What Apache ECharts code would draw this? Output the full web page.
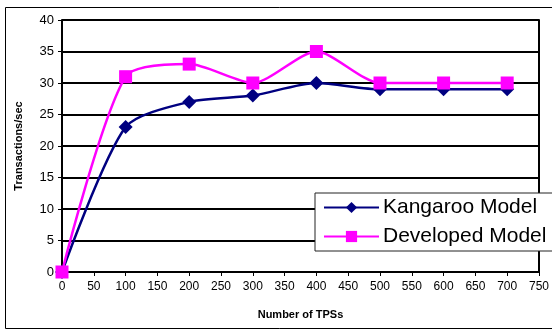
<!DOCTYPE html>
<html><head><meta charset="utf-8">
<script src="https://cdn.jsdelivr.net/npm/echarts@6/dist/echarts.min.js"></script>
<style>html,body{margin:0;padding:0;background:#fff}#c{width:552px;height:331px}</style>
</head><body><div id="c"></div>
<script>
var tps = [0, 100, 200, 300, 400, 500, 600, 700];
var kangaroo = [0, 23, 27, 28, 30, 29, 29, 29];
var developed = [0, 31, 33, 30, 35, 30, 30, 30];
var seriesNames = ['Kangaroo Model', 'Developed Model'];

function pairs(xs, ys) { return xs.map(function (x, i) { return [x, ys[i]]; }); }

var chart = echarts.init(document.getElementById('c'), null, {renderer: 'canvas'});
chart.setOption({
  animation: false,
  backgroundColor: '#fff',
  grid: {left: 62, top: 20, right: 11, bottom: 59},
  graphic: [{type: 'rect', shape: {x: 5.5, y: 7.5, width: 580, height: 321}, style: {fill: 'none', stroke: '#000', lineWidth: 1}, z: -1}],
  xAxis: {
    type: 'value', min: 0, max: 750, interval: 50,
    name: 'Number of TPSs', nameLocation: 'middle', nameGap: 37,
    nameTextStyle: {fontFamily: 'Liberation Sans', fontWeight: 'bold', fontSize: 11, color: '#000'},
    axisLine: {lineStyle: {color: '#000', width: 2}},
    axisTick: {show: true, length: 4, lineStyle: {color: '#000', width: 1}},
    axisLabel: {fontFamily: 'Liberation Sans', fontSize: 12, color: '#000', margin: 9},
    splitLine: {show: false}
  },
  yAxis: [{
    type: 'value', min: 0, max: 40, interval: 5,
    name: 'Transactions/sec', nameLocation: 'middle', nameGap: 38,
    nameTextStyle: {fontFamily: 'Liberation Sans', fontWeight: 'bold', fontSize: 11, color: '#000'},
    axisLine: {show: true, lineStyle: {color: '#000', width: 2}},
    axisTick: {show: true, length: 4, lineStyle: {color: '#000', width: 1}},
    axisLabel: {fontFamily: 'Liberation Sans', fontSize: 13, color: '#000', margin: 8},
    splitLine: {show: true, lineStyle: {color: '#000', width: 2}}
  }, {
    type: 'value', min: 0, max: 40, interval: 5, position: 'right',
    axisLine: {show: true, lineStyle: {color: '#000', width: 2}},
    axisTick: {show: false}, axisLabel: {show: false}, splitLine: {show: false}
  }],
  legend: {
    orient: 'vertical', left: 315, top: 193,
    data: seriesNames,
    backgroundColor: '#fff', borderColor: '#222', borderWidth: 1,
    padding: [4, 40, 4, 8], itemWidth: 55, itemHeight: 14, itemGap: 8,
    textStyle: {fontFamily: 'Liberation Sans', fontSize: 21, color: '#000', padding: [0, 0, 0, -1]}
  },
  series: [{
    name: seriesNames[0], type: 'line', data: pairs(tps, kangaroo),
    smooth: 0.25, symbol: 'diamond', symbolSize: [14, 14],
    lineStyle: {color: '#000080', width: 2.5}, itemStyle: {color: '#000080'}
  }, {
    name: seriesNames[1], type: 'line', data: pairs(tps, developed),
    smooth: 0.25, symbol: 'rect', symbolSize: 13,
    lineStyle: {color: '#FF00FF', width: 2.5}, itemStyle: {color: '#FF00FF'}
  }]
});
</script></body></html>
